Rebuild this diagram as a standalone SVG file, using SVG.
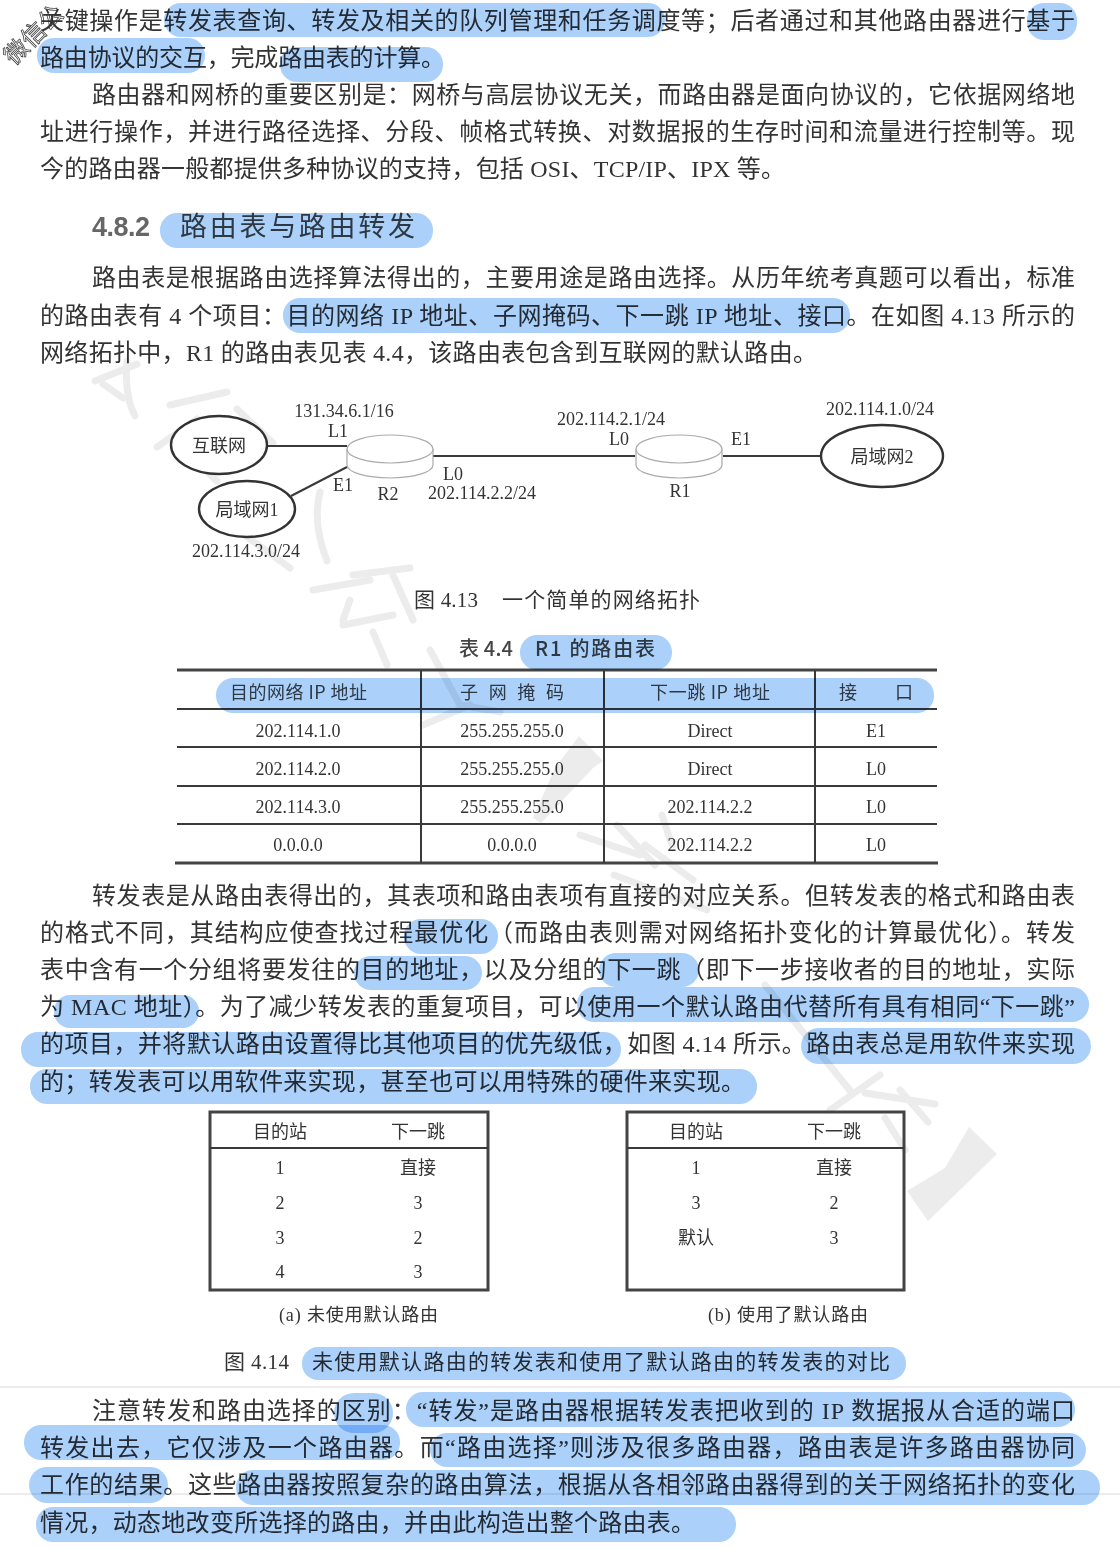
<svg xmlns="http://www.w3.org/2000/svg" width="1120" height="1549" viewBox="0 0 1120 1549">
<style>
text{font-family:"Liberation Serif","Noto Sans CJK SC",serif;fill:#333}
.b{font-size:24px}
.s{font-size:18px;text-anchor:middle}
.t{font-size:18px;text-anchor:middle}
.h{font-family:"Noto Sans CJK SC","Liberation Sans",sans-serif;font-size:18px;fill:#444}
.c{font-family:"Noto Sans CJK SC","Liberation Serif",sans-serif;fill:#444}
.hl{fill:#abd1fb;mix-blend-mode:multiply}
.wm{fill:none;stroke:#ececec;stroke-width:7;stroke-linecap:round;stroke-linejoin:round}
.wf{fill:#ececec}
.ln{stroke:#3a3a3a;stroke-width:2;fill:none}
.th{stroke:#444;stroke-width:3;fill:none}
.net{fill:#fff;stroke:#333;stroke-width:2.4}
.rt{fill:#fff;stroke:#aaa;stroke-width:1.2}
.scan{stroke:#d9d9d9;stroke-width:1.2}
</style>
<rect width="1120" height="1549" fill="#fff"/>
<g id="watermark">
<path class="wm" d="M95 381L137 364M127 361Q124 395 135 416M103 384L123 398M170 405L227 392M197 419L157 447M237 409L273 443M192 457L217 481M320 492Q312 522 327 561M247 537L290 568M353 575L410 568M313 590L370 580M393 575L413 620M343 625L393 615M350 600L343 620M373 632L387 665M430 650L460 705L500 712M423 725L470 705M580 835L640 855M617 825L655 865M662 815L672 845M645 845L693 880M614 875L707 910M765 985L852 1093M865 1093L935 1104M900 1090L928 1122M830 1110L880 1075M885 1118L905 1150"/>
<path class="wf" d="M579 736L603 761L593 768L541 823L533 818L555 768Z"/>
<path class="wf" d="M969 1127L997 1154L928 1221L907 1191L945 1168Z"/>
<text transform="translate(14 66) rotate(-45)" font-size="24" style="fill:#fff;stroke:#444;stroke-width:.8">微信公</text>
</g>
<line class="scan" x1="0" y1="1387" x2="1120" y2="1387"/>
<line class="scan" x1="0" y1="1494" x2="1120" y2="1494"/>
<g id="body-text">
<text class="b" x="40" y="29" textLength="1035">关键操作是转发表查询、转发及相关的队列管理和任务调度等；后者通过和其他路由器进行基于</text>
<text class="b" x="40" y="66" textLength="405">路由协议的交互，完成路由表的计算。</text>
<text class="b" x="92" y="103" textLength="983">路由器和网桥的重要区别是：网桥与高层协议无关，而路由器是面向协议的，它依据网络地</text>
<text class="b" x="40" y="140" textLength="1035">址进行操作，并进行路径选择、分段、帧格式转换、对数据报的生存时间和流量进行控制等。现</text>
<text class="b" x="40" y="177" textLength="745">今的路由器一般都提供多种协议的支持，包括 OSI、TCP/IP、IPX 等。</text>
<text x="92" y="236" font-size="27" font-weight="700" textLength="58" style="fill:#666;font-family:'Liberation Sans',sans-serif">4.8.2</text>
<text class="c" x="180" y="236" font-size="27" textLength="235">路由表与路由转发</text>
<text class="b" x="92" y="286" textLength="983">路由表是根据路由选择算法得出的，主要用途是路由选择。从历年统考真题可以看出，标准</text>
<text class="b" x="40" y="324" textLength="1035">的路由表有 4 个项目：目的网络 IP 地址、子网掩码、下一跳 IP 地址、接口。在如图 4.13 所示的</text>
<text class="b" x="40" y="361" textLength="777">网络拓扑中，R1 的路由表见表 4.4，该路由表包含到互联网的默认路由。</text>
<text class="b" x="92" y="904" textLength="983">转发表是从路由表得出的，其表项和路由表项有直接的对应关系。但转发表的格式和路由表</text>
<text class="b" x="40" y="941" textLength="1035">的格式不同，其结构应使查找过程最优化（而路由表则需对网络拓扑变化的计算最优化）。转发</text>
<text class="b" x="40" y="978" textLength="1035">表中含有一个分组将要发往的目的地址，以及分组的下一跳（即下一步接收者的目的地址，实际</text>
<text class="b" x="40" y="1015" textLength="1035">为 MAC 地址）。为了减少转发表的重复项目，可以使用一个默认路由代替所有具有相同“下一跳”</text>
<text class="b" x="40" y="1052" textLength="1035">的项目，并将默认路由设置得比其他项目的优先级低，如图 4.14 所示。路由表总是用软件来实现</text>
<text class="b" x="40" y="1090" textLength="705">的；转发表可以用软件来实现，甚至也可以用特殊的硬件来实现。</text>
<text class="b" x="92" y="1419" textLength="983">注意转发和路由选择的区别：“转发”是路由器根据转发表把收到的 IP 数据报从合适的端口</text>
<text class="b" x="40" y="1456" textLength="1035">转发出去，它仅涉及一个路由器。而“路由选择”则涉及很多路由器，路由表是许多路由器协同</text>
<text class="b" x="40" y="1493" textLength="1035">工作的结果。这些路由器按照复杂的路由算法，根据从各相邻路由器得到的关于网络拓扑的变化</text>
<text class="b" x="40" y="1531" textLength="655">情况，动态地改变所选择的路由，并由此构造出整个路由表。</text>
</g>
<g id="connectors">
<line class="ln" x1="267" y1="446" x2="347" y2="446"/>
<line class="ln" x1="291" y1="496" x2="347" y2="467"/>
<line class="ln" x1="433" y1="456" x2="635" y2="456"/>
<line class="ln" x1="723" y1="456" x2="821" y2="456"/>
</g>
<g id="net-internet"><ellipse class="net" cx="219" cy="445" rx="48" ry="29"/><text class="s" x="219" y="452">互联网</text></g>
<g id="net-lan1"><ellipse class="net" cx="247" cy="509" rx="48" ry="28"/><text class="s" x="247" y="516">局域网1</text></g>
<g id="net-lan2"><ellipse class="net" cx="882" cy="456" rx="61" ry="31"/><text class="s" x="882" y="463">局域网2</text></g>
<g id="router-r2"><path class="rt" d="M347 449V465A43 13 0 0 0 433 465V449"/><ellipse class="rt" cx="390" cy="449" rx="43" ry="14"/><text class="s" x="388" y="500">R2</text></g>
<g id="router-r1"><path class="rt" d="M636 449V465A43 13 0 0 0 722 465V449"/><ellipse class="rt" cx="679" cy="449" rx="43" ry="14"/><text class="s" x="680" y="497">R1</text></g>
<g id="net-labels">
<text class="s" x="344" y="417">131.34.6.1/16</text>
<text class="s" x="338" y="437">L1</text>
<text class="s" x="343" y="491">E1</text>
<text class="s" x="453" y="480">L0</text>
<text class="s" x="482" y="499">202.114.2.2/24</text>
<text class="s" x="611" y="425">202.114.2.1/24</text>
<text class="s" x="619" y="445">L0</text>
<text class="s" x="741" y="445">E1</text>
<text class="s" x="880" y="415">202.114.1.0/24</text>
<text class="s" x="246" y="557">202.114.3.0/24</text>
<text x="414" y="607" font-size="21" textLength="64">图 4.13</text>
<text x="502" y="607" font-size="21" textLength="198">一个简单的网络拓扑</text>
</g>
<g id="routing-table">
<text class="c" x="459" y="656" font-size="20" font-weight="500" textLength="54">表 4.4</text>
<text class="c" x="535" y="656" font-size="20" font-weight="500" textLength="120">R1 的路由表</text>
<line class="th" x1="177" y1="670" x2="937" y2="670"/>
<line class="ln" x1="177" y1="709" x2="937" y2="709"/>
<line class="ln" x1="177" y1="747" x2="937" y2="747"/>
<line class="ln" x1="177" y1="786" x2="937" y2="786"/>
<line class="ln" x1="177" y1="824" x2="937" y2="824"/>
<line class="th" x1="175" y1="863" x2="938" y2="863"/>
<line class="ln" x1="421" y1="670" x2="421" y2="863"/>
<line class="ln" x1="604" y1="670" x2="604" y2="863"/>
<line class="ln" x1="815" y1="670" x2="815" y2="863"/>
<text class="h" x="230" y="699" textLength="137">目的网络 IP 地址</text>
<text class="h" x="460" y="699" textLength="104">子 网 掩 码</text>
<text class="h" x="650" y="699" textLength="120">下一跳 IP 地址</text>
<text class="h" x="839" y="699" textLength="74">接　 口</text>
<text class="t" x="298" y="737">202.114.1.0</text><text class="t" x="512" y="737">255.255.255.0</text><text class="t" x="710" y="737">Direct</text><text class="t" x="876" y="737">E1</text>
<text class="t" x="298" y="775">202.114.2.0</text><text class="t" x="512" y="775">255.255.255.0</text><text class="t" x="710" y="775">Direct</text><text class="t" x="876" y="775">L0</text>
<text class="t" x="298" y="813">202.114.3.0</text><text class="t" x="512" y="813">255.255.255.0</text><text class="t" x="710" y="813">202.114.2.2</text><text class="t" x="876" y="813">L0</text>
<text class="t" x="298" y="851">0.0.0.0</text><text class="t" x="512" y="851">0.0.0.0</text><text class="t" x="710" y="851">202.114.2.2</text><text class="t" x="876" y="851">L0</text>
</g>
<g id="table-a">
<rect class="th" x="210" y="1112" width="278" height="178"/>
<line class="ln" x1="210" y1="1148" x2="488" y2="1148"/>
<text class="t" x="280" y="1138">目的站</text><text class="t" x="418" y="1138">下一跳</text>
<text class="t" x="280" y="1174">1</text><text class="t" x="418" y="1174">直接</text>
<text class="t" x="280" y="1209">2</text><text class="t" x="418" y="1209">3</text>
<text class="t" x="280" y="1244">3</text><text class="t" x="418" y="1244">2</text>
<text class="t" x="280" y="1278">4</text><text class="t" x="418" y="1278">3</text>
<text x="279" y="1321" font-size="18" textLength="159">(a) 未使用默认路由</text>
</g>
<g id="table-b">
<rect class="th" x="627" y="1112" width="277" height="178"/>
<line class="ln" x1="627" y1="1148" x2="904" y2="1148"/>
<text class="t" x="696" y="1138">目的站</text><text class="t" x="834" y="1138">下一跳</text>
<text class="t" x="696" y="1174">1</text><text class="t" x="834" y="1174">直接</text>
<text class="t" x="696" y="1209">3</text><text class="t" x="834" y="1209">2</text>
<text class="t" x="696" y="1244">默认</text><text class="t" x="834" y="1244">3</text>
<text x="708" y="1321" font-size="18" textLength="160">(b) 使用了默认路由</text>
</g>
<g id="figure-caption">
<text x="224" y="1369" font-size="21" textLength="65">图 4.14</text>
<text x="312" y="1369" font-size="21" textLength="578">未使用默认路由的转发表和使用了默认路由的转发表的对比</text>
</g>
<g id="highlights">
<rect class="hl" x="164" y="3" width="501" height="34" rx="17"/>
<rect class="hl" x="1027" y="3" width="50" height="37" rx="17"/>
<rect class="hl" x="37" y="38" width="168" height="35" rx="17"/>
<rect class="hl" x="280" y="47" width="163" height="35" rx="17"/>
<rect class="hl" x="160" y="213" width="273" height="35" rx="17"/>
<rect class="hl" x="283" y="298" width="567" height="35" rx="17"/>
<rect class="hl" x="520" y="635" width="152" height="35" rx="17"/>
<rect class="hl" x="216" y="678" width="718" height="35" rx="17"/>
<rect class="hl" x="404" y="919" width="94" height="35" rx="17"/>
<rect class="hl" x="354" y="956" width="128" height="34" rx="17"/>
<rect class="hl" x="599" y="953" width="100" height="34" rx="17"/>
<rect class="hl" x="54" y="995" width="145" height="33" rx="16"/>
<rect class="hl" x="577" y="987" width="512" height="35" rx="17"/>
<rect class="hl" x="21" y="1032" width="600" height="35" rx="17"/>
<rect class="hl" x="801" y="1028" width="290" height="36" rx="18"/>
<rect class="hl" x="30" y="1069" width="727" height="35" rx="17"/>
<rect class="hl" x="302" y="1347" width="604" height="33" rx="16"/>
<rect class="hl" x="334" y="1393" width="59" height="40" rx="20"/>
<rect class="hl" x="406" y="1392" width="669" height="35" rx="17"/>
<rect class="hl" x="24" y="1425" width="376" height="35" rx="17"/>
<rect class="hl" x="430" y="1433" width="656" height="34" rx="17"/>
<rect class="hl" x="29" y="1467" width="139" height="36" rx="18"/>
<rect class="hl" x="236" y="1470" width="864" height="35" rx="17"/>
<rect class="hl" x="36" y="1507" width="700" height="35" rx="17"/>
</g>
</svg>
